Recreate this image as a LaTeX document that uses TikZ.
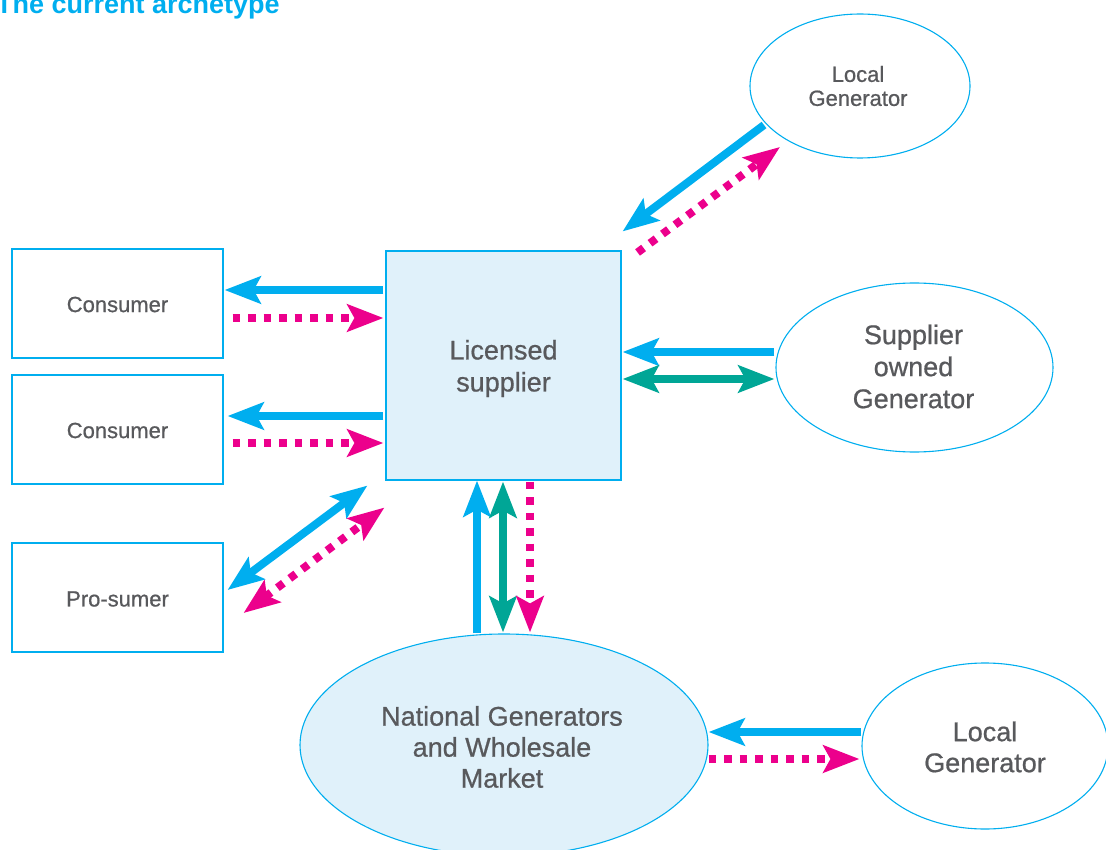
\documentclass[tikz,border=0pt]{standalone}
\usepackage{fontspec}
\setmainfont{Liberation Sans}[FakeBold=0.7]
\newfontfamily\medfont{Liberation Sans}[FakeBold=0.7,BoldFont={Liberation Sans Bold}]
\usetikzlibrary{arrows.meta,calc,shapes.geometric}
\definecolor{cyanb}{RGB}{0,174,239}
\definecolor{pinkm}{RGB}{236,0,140}
\definecolor{greent}{RGB}{0,166,150}
\definecolor{lightfill}{RGB}{224,241,250}
\definecolor{txt}{RGB}{88,89,92}
\tikzset{
  box/.style={draw=cyanb,line width=1.1pt,fill=white,minimum width=211pt,minimum height=109pt,inner sep=0pt},
  supbox/.style={draw=cyanb,line width=1.1pt,fill=lightfill,minimum width=235pt,minimum height=229pt,inner sep=0pt},
  oval/.style={ellipse,draw=cyanb,line width=1.1pt,fill=white,inner sep=0pt},
  lbl/.style={inner sep=0pt,text=txt,align=center,font=\medfont\fontsize{27}{32}\selectfont},
  slbl/.style={inner sep=0pt,text=txt,align=center,font=\medfont\fontsize{22}{24}\selectfont},
  bluearr/.style={draw=cyanb,line width=8pt,-{Stealth[length=36pt,width=27pt,inset=7pt]}},
  bluedbl/.style={draw=cyanb,line width=8pt,{Stealth[length=36pt,width=27pt,inset=7pt]}-{Stealth[length=36pt,width=27pt,inset=7pt]}},
  greendbl/.style={draw=greent,line width=8pt,{Stealth[length=36pt,width=27pt,inset=7pt]}-{Stealth[length=36pt,width=27pt,inset=7pt]}},
  pinkarr/.style={draw=pinkm,line width=8pt,dash pattern=on 7.5pt off 8pt,-{Stealth[length=36pt,width=27pt,inset=7pt]}},
  pinkdbl/.style={draw=pinkm,line width=8pt,dash pattern=on 7.5pt off 8pt,{Stealth[length=36pt,width=27pt,inset=7pt]}-{Stealth[length=36pt,width=27pt,inset=7pt]}},
}
\begin{document}
\begin{tikzpicture}[x=1pt,y=-1pt]
\useasboundingbox (0,0) rectangle (1106,850);
\node[anchor=base west,inner sep=0pt,text=cyanb,font=\fontspec{Liberation Sans Bold}\fontsize{27}{30}\selectfont] (title) at (-4,14) {The current archetype};
\node[box] (c1) at (117.5,303.5) {};
\node[box] (c2) at (117.5,429.5) {};
\node[box] (ps) at (117.5,597.5) {};
\node[slbl] (c1t) at ($(c1)+(0,1)$) {Consumer};
\node[slbl] (c2t) at ($(c2)+(0,1)$) {Consumer};
\node[slbl] (pst) at ($(ps)+(0,1.5)$) {Pro-sumer};
\node[supbox] (ls) at (503.5,365.5) {};
\node[lbl] (lst) at ($(ls)+(0,3)$) {Licensed\\supplier};
\node[oval,minimum width=220pt,minimum height=144pt] (lg1) at (860,86) {};
\node[slbl] (lg1t) at ($(lg1)+(-2,0)$) {Local\\Generator};
\node[oval,minimum width=277pt,minimum height=169pt] (sg) at (914.5,367.5) {};
\node[lbl] (sgt) at ($(sg)+(-1,-1)$) {Supplier\\owned\\Generator};
\node[oval,fill=lightfill,minimum width=408pt,minimum height=222pt] (ng) at (504,745) {};
\node[lbl,font=\medfont\fontsize{27}{31}\selectfont] (ngt) at ($(ng)+(-2,2)$) {National Generators\\and Wholesale\\Market};
\node[oval,minimum width=246pt,minimum height=166pt] (lg2) at (985,746) {};
\node[lbl,font=\medfont\fontsize{27}{31}\selectfont] (lg2t) at ($(lg2)+(0,1)$) {Local\\Generator};
% consumers
\draw[bluearr] ($(ls.west|-c1.east)+(-2,-13.5)$) -- ($(c1.east)+(1,-13.5)$);
\draw[pinkarr] ($(c1.east)+(9,14.5)$) -- ($(ls.west|-c1.east)+(-2,14.5)$);
\draw[bluearr] ($(ls.west|-c2.east)+(-2,-13.5)$) -- ($(c2.east)+(4,-13.5)$);
\draw[pinkarr] ($(c2.east)+(9,13.5)$) -- ($(ls.west|-c2.east)+(-2,13.5)$);
% prosumer
\draw[bluedbl] ($(ps.east)+(4,-7.5)$) -- ($(ls.south west)+(-18,5)$);
\draw[pinkdbl] ($(ps.east)+(20,15.5)$) -- ($(ls.south west)+(-1,27)$);
% local generator top
\draw[bluearr] ($(lg1.center)+(-96,39)$) -- ($(ls.north east)+(1,-19)$);
\draw[pinkarr] ($(ls.north east)+(16,2)$) -- ($(lg1.center)+(-80,61)$);
% supplier owned
\draw[bluearr] ($(sg.west)+(-1,-15.5)$) -- ($(ls.east|-sg.west)+(1,-15.5)$);
\draw[greendbl] ($(ls.east|-sg.west)+(1,11.5)$) -- ($(sg.west)+(-1,11.5)$);
% vertical
\draw[bluearr] ($(ng.north)+(-27,0)$) -- ($(ls.south)+(-26.5,0)$);
\draw[greendbl] ($(ls.south)+(-0.5,1)$) -- ($(ng.north)+(-1,-1)$);
\draw[pinkarr] ($(ls.south)+(26.5,1)$) -- ($(ng.north)+(26,-1)$);
% bottom local generator
\draw[bluearr] ($(lg2.west)+(0,-14)$) -- ($(ng.east)+(0,-13)$);
\draw[pinkarr] ($(ng.east)+(0,14)$) -- ($(lg2.west)+(-2,13)$);
\end{tikzpicture}
\end{document}
